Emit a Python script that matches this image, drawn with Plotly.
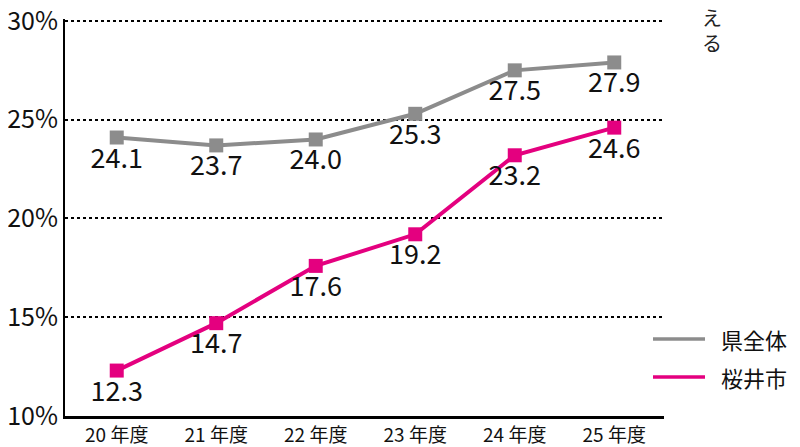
import plotly.graph_objects as go

years = ["20 年度", "21 年度", "22 年度", "23 年度", "24 年度", "25 年度"]
pref_values = [24.1, 23.7, 24.0, 25.3, 27.5, 27.9]
city_values = [12.3, 14.7, 17.6, 19.2, 23.2, 24.6]
series_names = ["県全体", "桜井市"]
series_colors = ["#8c8c8c", "#e4007f"]
y_ticks = [10, 15, 20, 25, 30]
y_tick_labels = ["10%", "15%", "20%", "25%", "30%"]

FONT = "Noto Sans CJK JP"
OFF = 8  # page body margin
W, H = 800, 447
PL, PR, PT, PB = 65, 664, 19, 416  # plot box on screen
L = PL - OFF
T = PT - OFF
pw, ph = PR - PL, PB - PT
R = W - L - pw
B = H - T - ph

def px(x):
    return (x - PL) / pw

def py(y):
    return (PB - y) / ph

xs = list(range(len(years)))
fig = go.Figure()
for vals, name, col in zip([pref_values, city_values], series_names, series_colors):
    fig.add_trace(go.Scatter(
        x=xs, y=vals, mode="lines+markers+text", name=name,
        line=dict(color=col, width=4),
        marker=dict(symbol="square", size=14, color=col),
        text=[f"{v:.1f}" for v in vals], textposition="bottom center",
        textfont=dict(family=FONT, size=27, color="#111"),
        showlegend=False, cliponaxis=False,
    ))

shapes = []
annotations = []
for i, (name, col) in enumerate(zip(series_names, series_colors)):
    yy = [339, 377][i]
    shapes.append(dict(type="line", xref="paper", yref="paper",
                       x0=px(653), x1=px(705), y0=py(yy), y1=py(yy),
                       line=dict(color=col, width=3.5)))
    annotations.append(dict(xref="paper", yref="paper", x=px(719), y=py(yy),
                            text=name, showarrow=False, xanchor="left",
                            yanchor="middle",
                            font=dict(family=FONT, size=22, color="#111")))
for ch, yy in [("え", 18), ("る", 42)]:
    annotations.append(dict(xref="paper", yref="paper", x=px(712), y=py(yy),
                            text=ch, showarrow=False, xanchor="center",
                            yanchor="middle",
                            font=dict(family=FONT, size=20, color="#222")))

fig.update_layout(
    width=W, height=H,
    margin=dict(l=L, r=R, t=T, b=B, autoexpand=False),
    paper_bgcolor="white", plot_bgcolor="white",
    shapes=shapes, annotations=annotations,
    font=dict(family=FONT, color="#111"),
)
fig.update_xaxes(
    range=[-0.52, 5.5], tickvals=xs, ticktext=years,
    showgrid=False, zeroline=False,
    showline=True, linecolor="black", linewidth=3,
    ticks="", tickfont=dict(family=FONT, size=19, color="#111"),
    ticklabeloverflow="allow",
)
fig.update_yaxes(
    range=[10, 30.1], tickvals=y_ticks, ticktext=y_tick_labels,
    showgrid=True, gridcolor="black", griddash="dot", gridwidth=1.5,
    zeroline=False,
    showline=True, linecolor="black", linewidth=2,
    ticks="", tickfont=dict(family=FONT, size=25, color="#111"),
    ticklabeloverflow="allow",
)

fig.write_html("out.html")
